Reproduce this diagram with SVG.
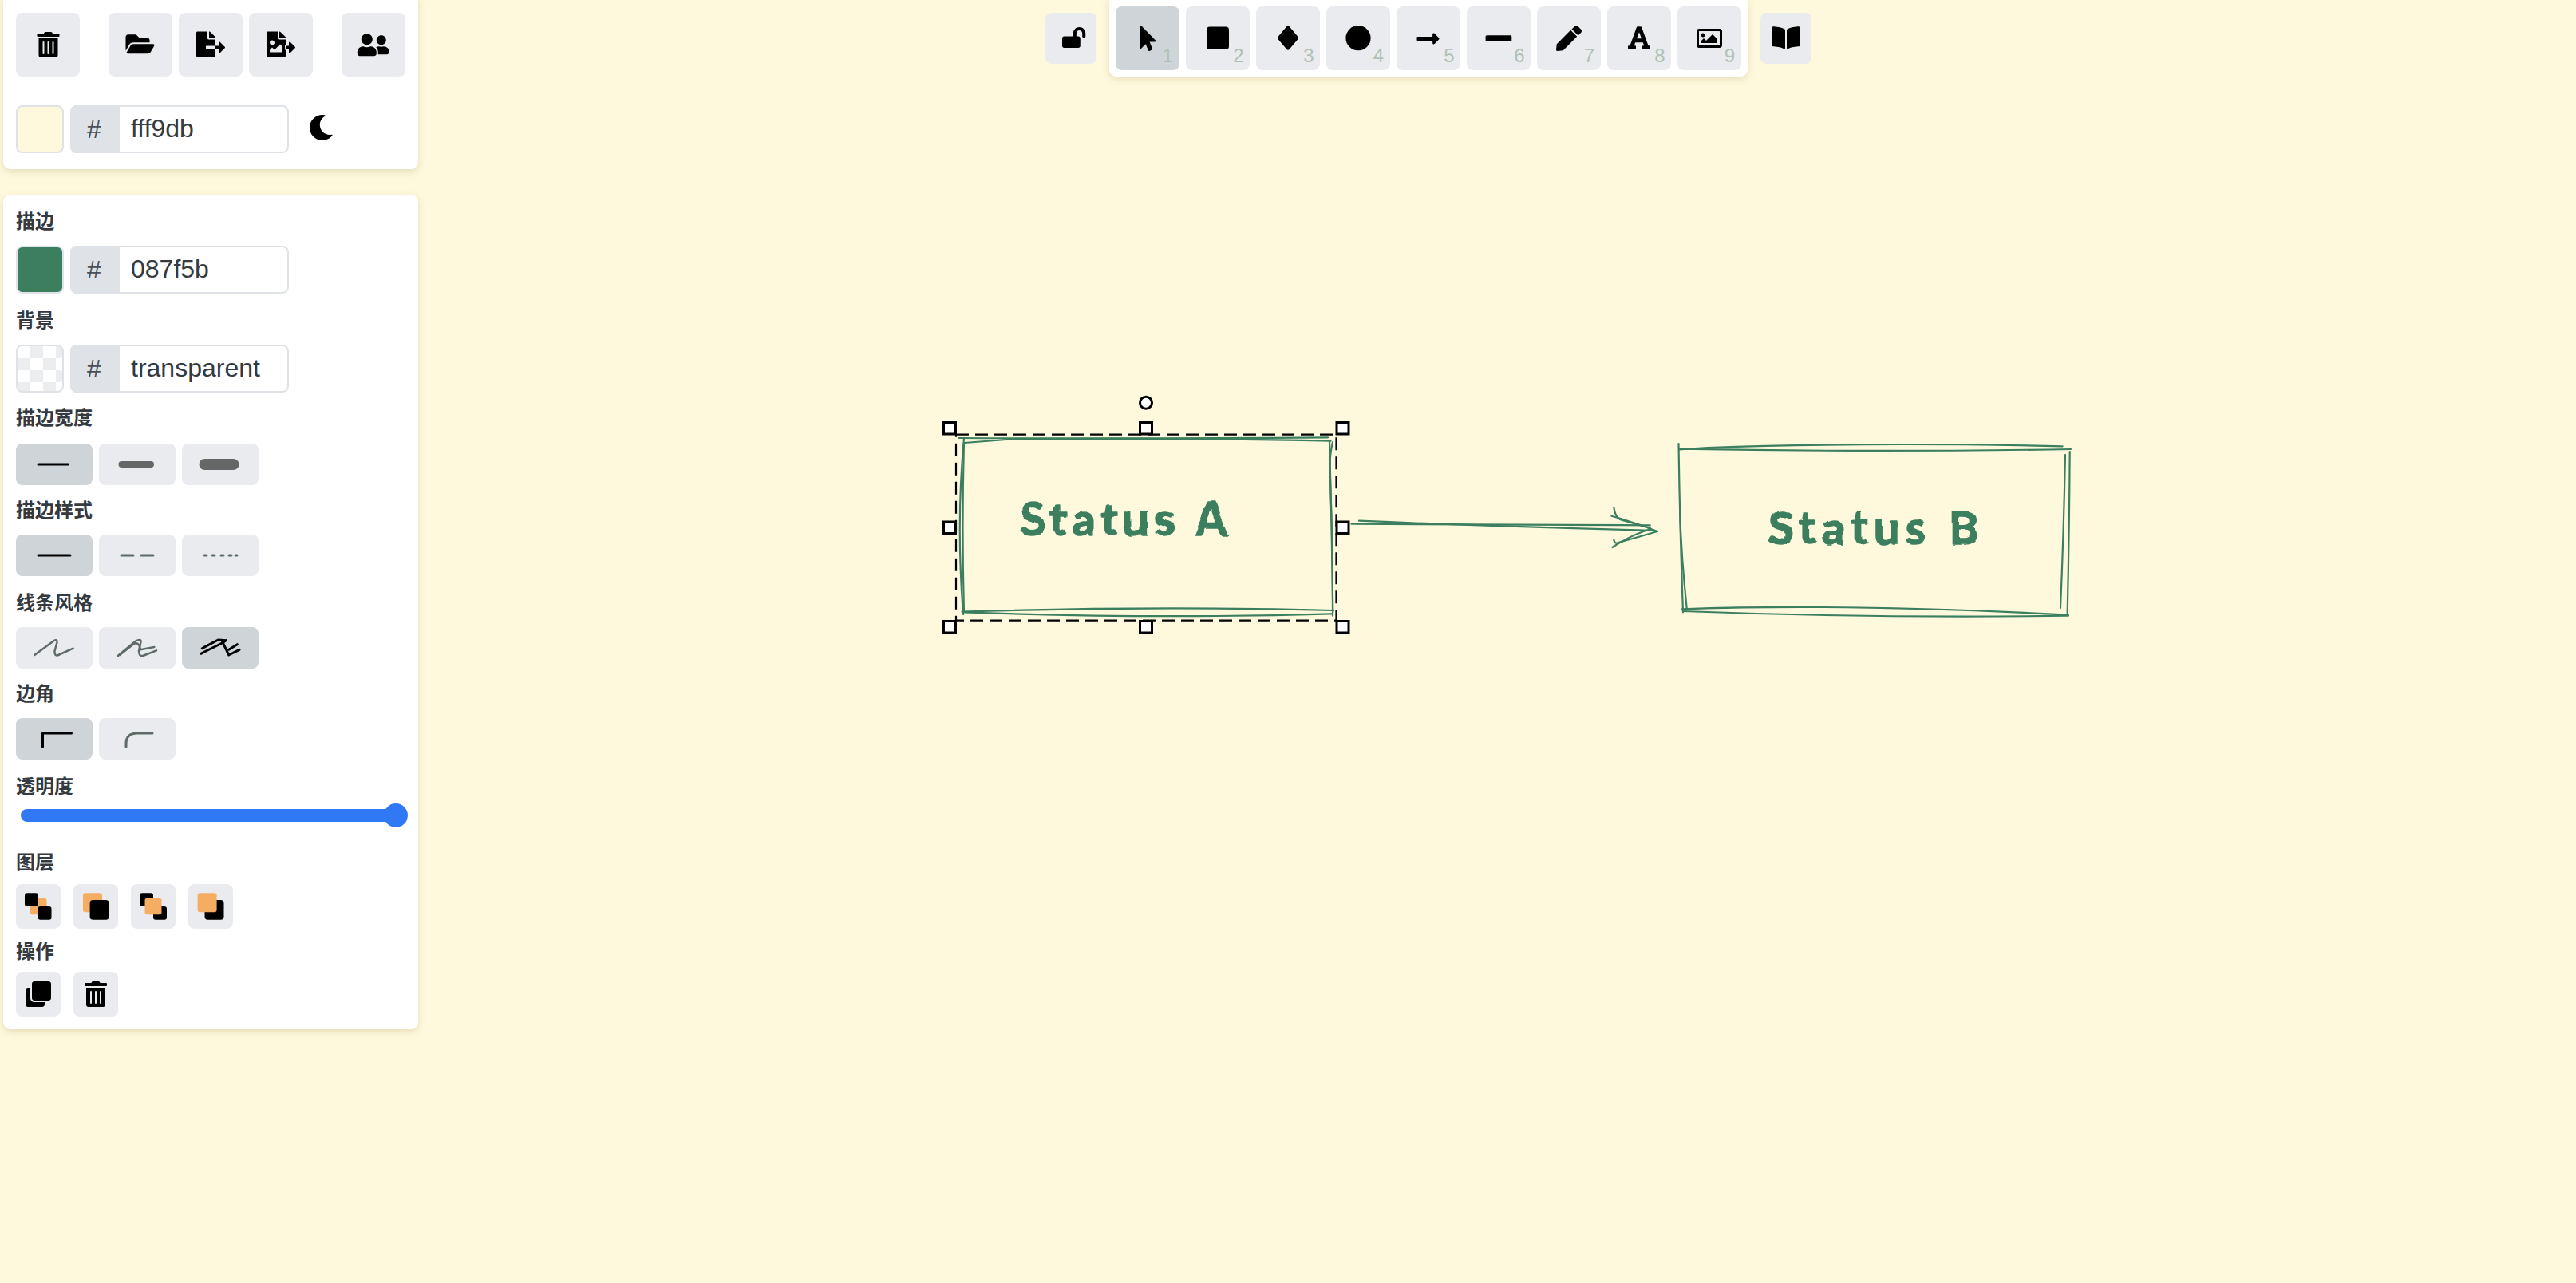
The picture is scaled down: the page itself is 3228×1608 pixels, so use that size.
<svg xmlns="http://www.w3.org/2000/svg" xmlns:xlink="http://www.w3.org/1999/xlink" width="3228" height="1608" viewBox="0 0 3228 1608">
<style>
.panel{fill:#fff;filter:url(#shadow)}
.btn{fill:#e9ebef}
.on{fill:#cfd4d8}
.lbl{font-family:"Noto Sans CJK SC","Liberation Sans",sans-serif;font-size:24px;font-weight:700;fill:#343a40}
.hash{font-family:"Liberation Sans",sans-serif;font-size:32px;fill:#495057;text-anchor:middle}
.val{font-family:"Liberation Sans",sans-serif;font-size:32px;fill:#343a40}
.num{font-family:"Liberation Sans",sans-serif;font-size:24px;fill:#b0c2b4;text-anchor:end}
.box{fill:#fff;stroke:#dfe2e7;stroke-width:2}
.hashbg{fill:#dfe2e7}
.sw{stroke:#dfe2e7;stroke-width:2}
.ink{fill:none;stroke:#3b7f5f;stroke-width:2.2;stroke-linecap:round;stroke-linejoin:round}
.hand{font-family:"Lato","Noto Sans",sans-serif;font-size:58px;font-weight:700;fill:#3b7f5f;stroke:#3b7f5f;stroke-width:1.5;stroke-linejoin:round;filter:url(#wobble)}
.handle{fill:#fff;stroke:#000;stroke-width:3}
.g{fill:none;stroke:#5f6b66;stroke-linecap:round;stroke-linejoin:round}
.k{fill:none;stroke:#000;stroke-linecap:round;stroke-linejoin:round}
.or{fill:#f5ad62}
</style>
<defs>
<filter id="shadow" x="-10%" y="-10%" width="120%" height="120%"><feDropShadow dx="0" dy="3" stdDeviation="4" flood-color="#8a7a30" flood-opacity="0.22"/></filter>
<filter id="wobble" x="-5%" y="-20%" width="110%" height="140%"><feTurbulence type="fractalNoise" baseFrequency="0.035" numOctaves="2" seed="4" result="n"/><feDisplacementMap in="SourceGraphic" in2="n" scale="7" xChannelSelector="R" yChannelSelector="G"/></filter>
<path id="i-trash" d="M32 464a48 48 0 0 0 48 48h288a48 48 0 0 0 48-48V128H32zm272-256a16 16 0 0 1 32 0v224a16 16 0 0 1-32 0zm-96 0a16 16 0 0 1 32 0v224a16 16 0 0 1-32 0zm-96 0a16 16 0 0 1 32 0v224a16 16 0 0 1-32 0zM432 32H312l-9.4-18.7A24 24 0 0 0 281.1 0H166.8a23.72 23.72 0 0 0-21.4 13.3L136 32H16A16 16 0 0 0 0 48v32a16 16 0 0 0 16 16h416a16 16 0 0 0 16-16V48a16 16 0 0 0-16-16z"/>
<clipPath id="chk"><rect x="21" y="433" width="58" height="58" rx="7"/></clipPath>
</defs>
<rect id="canvas" width="3228" height="1608" fill="#fef8dd"/>

<g id="connectors">
<g id="arrow-a-b">
<path class="ink" d="M1693.5 656.7Q1880 657.4 2067.8 658.3"/>
<path class="ink" d="M1703 652.7Q1880 660 2073.8 665"/>
<path class="ink" d="M2022.3 636Q2024 648 2030 651Q2050 657 2067.8 661.7"/>
<path class="ink" d="M2019.3 646.7Q2050 655 2076.9 666"/>
<path class="ink" d="M2020.5 686Q2045 670 2067.8 663.3"/>
<path class="ink" d="M2022.3 676.7Q2023 680 2025.4 680.7Q2050 674 2076.9 666"/>
</g>
</g>

<g id="node-status-a">
<path class="ink" d="M1201 549Q1430 550 1664 548.3"/>
<path class="ink" d="M1208.3 555L1261 551Q1445 548 1667.6 552.7"/>
<path class="ink" d="M1208 549Q1198 656 1207 770"/>
<path class="ink" d="M1208 555Q1205 660 1208 766.7"/>
<path class="ink" d="M1666 552.7Q1669 660 1670.3 766.7"/>
<path class="ink" d="M1670 554Q1665 575 1667 600Q1670 680 1670 771.7"/>
<path class="ink" d="M1205.5 766.7Q1445 759 1671 765"/>
<path class="ink" d="M1207 767.3Q1445 776 1669 769.3"/>
<text class="hand" x="1278" y="671" textLength="260" lengthAdjust="spacing">Status A</text>
</g>

<g id="selection">
<rect x="1198" y="544.700" width="476.500" height="233" fill="none" stroke="#000" stroke-width="2.200" stroke-dasharray="16 8"/>
<rect class="handle" x="1182.500" y="529.500" width="15" height="14.500"/>
<rect class="handle" x="1428.500" y="529.500" width="15" height="14.500"/>
<rect class="handle" x="1675" y="529.500" width="15" height="14.500"/>
<rect class="handle" x="1182.500" y="654" width="15" height="14.500"/>
<rect class="handle" x="1675" y="654" width="15" height="14.500"/>
<rect class="handle" x="1182.500" y="778.500" width="15" height="14.500"/>
<rect class="handle" x="1428.500" y="778.500" width="15" height="14.500"/>
<rect class="handle" x="1675" y="778.500" width="15" height="14.500"/>
<circle class="handle" cx="1436" cy="504.700" r="7.500"/>
</g>

<g id="node-status-b">
<path class="ink" d="M2104 563.3L2140 561Q2346 554 2584.6 559.3"/>
<path class="ink" d="M2104 562.7Q2346 567 2595 563"/>
<path class="ink" d="M2103.500 556Q2105 663 2109 767.300"/>
<path class="ink" d="M2105 640Q2107 700 2113.800 763.300"/>
<path class="ink" d="M2593.700 566Q2593 670 2590.700 768.300"/>
<path class="ink" d="M2588 570Q2586 670 2582 762"/>
<path class="ink" d="M2107.700 763.300Q2316 756 2591.800 770.700"/>
<path class="ink" d="M2109 766Q2346 775 2591.800 771.700"/>
<text class="hand" x="2216" y="682" textLength="264" lengthAdjust="spacing">Status B</text>
</g>

<g id="panel-top">
<rect class="panel" x="4" y="-6" width="520" height="218" rx="9"/>
<g id="btn-clear"><rect class="btn" x="20" y="16" width="80" height="80" rx="8"/><use href="#i-trash" transform="translate(46.500 40) scale(.0625)"/></g>
<g id="btn-open"><rect class="btn" x="136" y="16" width="80" height="80" rx="8"/><path transform="translate(157.500 39.300) scale(.0625)" d="M572.694 292.093L500.27 416.248A63.997 63.997 0 0 1 444.989 448H45.025c-18.523 0-30.064-20.093-20.731-36.093l72.424-124.155A64 64 0 0 1 152 256h399.964c18.523 0 30.064 20.093 20.73 36.093zM152 224h328v-48c0-26.51-21.49-48-48-48H272l-64-64H48C21.49 64 0 85.49 0 112v278.046l69.077-118.418C86.214 242.25 117.989 224 152 224z"/></g>
<g id="btn-export"><rect class="btn" x="224" y="16" width="80" height="80" rx="8"/><path transform="translate(246 39.500) scale(.0625)" d="M384 121.9c0-6.3-2.5-12.4-7-16.9L279.1 7c-4.5-4.5-10.6-7-17-7H256v128h128zM571 308l-95.7-96.4c-10.1-10.1-27.4-3-27.4 11.3V288h-64v64h64v65.2c0 14.3 17.3 21.4 27.4 11.3L571 332c6.6-6.6 6.6-17.4 0-24zm-379 28v-32c0-8.8 7.2-16 16-16h176V160H248c-13.2 0-24-10.8-24-24V0H24C10.7 0 0 10.700 0 24v464c0 13.300 10.700 24 24 24h336c13.300 0 24-10.700 24-24V352H208c-8.800 0-16-7.200-16-16z"/></g>
<g id="btn-export-image"><rect class="btn" x="312" y="16" width="80" height="80" rx="8"/><g transform="translate(334 39.500) scale(.0625)"><path d="M384 121.941V128H256V0h6.059a24 24 0 0 1 16.97 7.029l97.941 97.941a24.002 24.002 0 0 1 7.03 16.971zM248 160c-13.2 0-24-10.8-24-24V0H24C10.745 0 0 10.745 0 24v464c0 13.255 10.745 24 24 24h336c13.255 0 24-10.745 24-24V160H248zm-135.455 16c26.51 0 48 21.49 48 48s-21.49 48-48 48-48-21.49-48-48 21.491-48 48-48zm208 240h-256l.485-48.485L104.545 328c4.686-4.686 11.799-4.201 16.485.485L160.545 368 264.06 264.485c4.686-4.686 12.284-4.686 16.971 0L320.545 304v112z"/><path d="M571 308l-95.700-96.400c-10.100-10.100-27.400-3-27.400 11.300V288h-64v64h64v65.200c0 14.300 17.300 21.400 27.400 11.300L571 332c6.600-6.600 6.600-17.400 0-24z" stroke="#e9ebef" stroke-width="30"/><path d="M571 308l-95.700-96.400c-10.100-10.100-27.400-3-27.400 11.300V288h-64v64h64v65.200c0 14.300 17.300 21.400 27.400 11.300L571 332c6.600-6.600 6.600-17.400 0-24z"/></g></g>
<g id="btn-users"><rect class="btn" x="428" y="16" width="80" height="80" rx="8"/><path transform="translate(447.800 40.300) scale(.0625)" d="M192 256c61.9 0 112-50.1 112-112S253.9 32 192 32 80 82.1 80 144s50.1 112 112 112zm76.8 32h-8.3c-20.8 10-43.9 16-68.5 16s-47.6-6-68.5-16h-8.3C51.6 288 0 339.6 0 403.2V432c0 26.5 21.5 48 48 48h288c26.5 0 48-21.5 48-48v-28.8c0-63.6-51.6-115.2-115.2-115.2zM480 256c53 0 96-43 96-96s-43-96-96-96-96 43-96 96 43 96 96 96zm48 32h-3.8c-13.9 4.8-28.6 8-44.2 8s-30.3-3.2-44.2-8H432c-20.4 0-39.2 5.9-55.700 15.4 24.4 26.3 39.7 61.2 39.7 99.8v38.4c0 2.2-.5 4.3-.6 6.4H592c26.5 0 48-21.5 48-48 0-61.900-50.100-112-112-112z"/></g>
<g id="canvas-color"><rect class="sw" x="21" y="133" width="58" height="58" rx="7" fill="#fef8dd"/><rect class="box" x="89" y="133" width="272" height="58" rx="7"/><path class="hashbg" d="M150 132H96a8 8 0 0 0-8 8v44a8 8 0 0 0 8 8h54z"/><text class="hash" x="118" y="173">#</text><text class="val" x="164" y="172">fff9db</text></g>
<path id="icon-moon" transform="translate(386.300 144) scale(.0625)" d="M283.211 512c78.962 0 151.079-35.925 198.857-94.792 7.068-8.708-.639-21.43-11.562-19.35-124.203 23.654-238.262-71.576-238.262-196.954 0-72.222 38.662-138.635 101.498-174.394 9.686-5.512 7.25-20.197-3.756-22.23A258.156 258.156 0 0 0 283.211 0c-141.309 0-256 114.511-256 256 0 141.309 114.511 256 256 256z"/>
</g>

<g id="panel-props">
<rect class="panel" x="4" y="244" width="520" height="1046" rx="9"/>
<text class="lbl" x="20" y="286">描边</text>
<g id="stroke-color"><rect class="sw" x="21" y="309" width="58" height="58" rx="7" fill="#3b7f5f"/><rect class="box" x="89" y="309" width="272" height="58" rx="7"/><path class="hashbg" d="M150 308H96a8 8 0 0 0-8 8v44a8 8 0 0 0 8 8h54z"/><text class="hash" x="118" y="349">#</text><text class="val" x="164" y="348">087f5b</text></g>
<text class="lbl" x="20" y="410">背景</text>
<g id="bg-color">
<rect x="21" y="433" width="58" height="58" rx="7" fill="#fff"/>
<g clip-path="url(#chk)" fill="#ecedef"><rect x="38" y="434" width="16" height="15"/><rect x="70" y="434" width="16" height="15"/><rect x="22" y="449" width="16" height="15"/><rect x="54" y="449" width="16" height="15"/><rect x="38" y="464" width="16" height="15"/><rect x="70" y="464" width="16" height="15"/><rect x="22" y="479" width="16" height="15"/><rect x="54" y="479" width="16" height="15"/></g>
<rect class="sw" x="21" y="433" width="58" height="58" rx="7" fill="none"/>
<rect class="box" x="89" y="433" width="272" height="58" rx="7"/><path class="hashbg" d="M150 432H96a8 8 0 0 0-8 8v44a8 8 0 0 0 8 8h54z"/><text class="hash" x="118" y="473">#</text><text class="val" x="164" y="472">transparent</text></g>
<text class="lbl" x="20" y="532">描边宽度</text>
<g id="stroke-width">
<rect class="on" x="20" y="556" width="96" height="52" rx="8"/><rect class="btn" x="124" y="556" width="96" height="52" rx="8"/><rect class="btn" x="228" y="556" width="96" height="52" rx="8"/>
<path class="k" stroke-width="3" d="M48 582H85.500"/><rect x="148.500" y="578" width="44.500" height="8" rx="4" fill="#646766"/><rect x="249.500" y="575" width="50" height="14" rx="7" fill="#646766"/>
</g>
<text class="lbl" x="20" y="648">描边样式</text>
<g id="stroke-style">
<rect class="on" x="20" y="670" width="96" height="52" rx="8"/><rect class="btn" x="124" y="670" width="96" height="52" rx="8"/><rect class="btn" x="228" y="670" width="96" height="52" rx="8"/>
<path class="k" stroke-width="3" d="M48 696H88"/><path class="g" stroke-width="3" d="M152 696H167M177 696H192"/><path class="g" stroke-width="3" d="M256 696h3M266 696h3M277 696h3M287 696h3M295 696h2"/>
</g>
<text class="lbl" x="20" y="764">线条风格</text>
<g id="sloppiness">
<rect class="btn" x="20" y="786" width="96" height="52" rx="8"/><rect class="btn" x="124" y="786" width="96" height="52" rx="8"/><rect class="on" x="228" y="786" width="96" height="52" rx="8"/>
<path class="g" stroke-width="2.500" d="M43.300 821L67 803.500Q72 800.500 71.500 805L68.500 816Q68 823 73 821L91.700 812.700"/>
<path class="g" stroke-width="2.500" d="M147.700 822L170 803.500Q176 800.500 176.700 803.500L174 816Q174 823 179 822L196 815.300"/>
<path class="g" stroke-width="2.500" d="M150 821L166.700 807.700Q174 803 176 814.300L193.300 811"/>
<path class="k" stroke-width="3" d="M253.300 812.700L273.300 802L283.300 802.700M251.700 819.300L278.300 806L283.300 802.700M278.300 803.300L286.700 821L300 814.300M286.700 814.300L297.300 807.700"/>
</g>
<text class="lbl" x="20" y="878">边角</text>
<g id="roundness">
<rect class="on" x="20" y="900" width="96" height="52" rx="8"/><rect class="btn" x="124" y="900" width="96" height="52" rx="8"/>
<path class="k" stroke-width="3" d="M53.500 936V919H89.500"/><path class="g" stroke-width="3" d="M158 936V932Q158 919 172 919H191"/>
</g>
<text class="lbl" x="20" y="994">透明度</text>
<g id="opacity"><rect x="26" y="1014" width="472" height="16" rx="8" fill="#3178f4"/><circle cx="496" cy="1022" r="15" fill="#3178f4"/></g>
<text class="lbl" x="20" y="1089">图层</text>
<g id="layers">
<rect class="btn" x="20" y="1108" width="56" height="56" rx="8"/><rect class="btn" x="92" y="1108" width="56" height="56" rx="8"/><rect class="btn" x="164" y="1108" width="56" height="56" rx="8"/><rect class="btn" x="236" y="1108" width="56" height="56" rx="8"/>
<rect class="or" x="37.500" y="1125.700" width="21" height="20.500" rx="3"/><rect x="31" y="1119.300" width="17" height="16.700" rx="3"/><rect x="47.500" y="1136" width="17" height="16.700" rx="3"/>
<rect class="or" x="104" y="1119.300" width="24" height="24" rx="3"/><rect x="112.600" y="1128" width="24" height="24.700" rx="4"/>
<rect x="175" y="1119.300" width="17" height="16.700" rx="3"/><rect x="192" y="1136" width="17" height="16.700" rx="3"/><rect class="or" x="181.500" y="1125.700" width="21" height="20.500" rx="3"/>
<rect x="256.500" y="1128" width="24" height="24.700" rx="4"/><rect class="or" x="247.600" y="1119.300" width="24" height="24" rx="3"/>
</g>
<text class="lbl" x="20" y="1201">操作</text>
<g id="actions">
<rect class="btn" x="20" y="1218" width="56" height="56" rx="8"/><rect class="btn" x="92" y="1218" width="56" height="56" rx="8"/>
<path transform="translate(32 1230) scale(.0625)" d="M464 0c26.51 0 48 21.49 48 48v288c0 26.51-21.49 48-48 48H176c-26.51 0-48-21.49-48-48V48c0-26.51 21.49-48 48-48h288M176 416c-44.112 0-80-35.888-80-80V128H48c-26.51 0-48 21.49-48 48v288c0 26.51 21.49 48 48 48h288c26.51 0 48-21.49 48-48v-48H176z"/>
<use href="#i-trash" transform="translate(106 1230) scale(.0625)"/>
</g>
</g>

<g id="toolbar">
<g id="btn-lock"><rect class="btn" x="1310" y="16" width="64" height="64" rx="8"/><path transform="translate(1331 34) scale(.0508)" d="M423.5 0C339.5.3 272 69.5 272 153.5V224H48c-26.5 0-48 21.5-48 48v192c0 26.5 21.500 48 48 48h352c26.500 0 48-21.500 48-48V272c0-26.500-21.500-48-48-48h-48v-71.100c0-39.600 31.700-72.500 71.300-72.900 40-.4 72.700 32.100 72.700 72v80c0 13.300 10.700 24 24 24h32c13.300 0 24-10.700 24-24v-80C576 68 507.500-.3 423.500 0z"/></g>
<rect class="panel" x="1390" y="-6" width="800" height="102" rx="9"/>
<g id="tool-1"><rect class="on" x="1398" y="8" width="80" height="80" rx="8"/><path transform="translate(1428.300 32) scale(.0625)" d="M302.189 329.126H196.105l55.831 135.993c3.889 9.428-.555 19.999-9.444 23.999l-49.165 21.427c-9.165 4-19.443-.571-23.332-9.714l-53.053-129.136-86.664 89.138C18.729 472.71 0 463.554 0 447.977V18.299C0 1.899 19.921-6.096 30.277 5.443l284.412 292.542c11.472 11.179 3.007 31.141-12.5 31.141z"/><text class="num" x="1470" y="78">1</text></g>
<g id="tool-2"><rect class="btn" x="1486" y="8" width="80" height="80" rx="8"/><rect x="1512" y="33.500" width="28" height="28.500" rx="4"/><text class="num" x="1558.500" y="78">2</text></g>
<g id="tool-3"><rect class="btn" x="1574" y="8" width="80" height="80" rx="8"/><path d="M1612.500 33Q1614 31.500 1615.500 33L1626.500 46Q1627.500 47.500 1626.500 49L1615.500 62Q1614 63.500 1612.500 62L1601.500 49Q1600.500 47.500 1601.500 46Z"/><text class="num" x="1646.500" y="78">3</text></g>
<g id="tool-4"><rect class="btn" x="1662" y="8" width="80" height="80" rx="8"/><circle cx="1702" cy="47.700" r="15.600"/><text class="num" x="1734" y="78">4</text></g>
<g id="tool-5"><rect class="btn" x="1750" y="8" width="80" height="80" rx="8"/><path transform="translate(1775.500 32.500) scale(.0625)" d="M313.941 216H12c-6.627 0-12 5.373-12 12v56c0 6.627 5.373 12 12 12h301.941v46.059c0 21.382 25.851 32.09 40.971 16.971l86.059-86.059c9.373-9.373 9.373-24.569 0-33.941l-86.059-86.059c-15.119-15.119-40.971-4.411-40.971 16.971V216z"/><text class="num" x="1822.500" y="78">5</text></g>
<g id="tool-6"><rect class="btn" x="1838" y="8" width="80" height="80" rx="8"/><rect x="1861.600" y="44.300" width="32.700" height="7.400" rx="1.500"/><text class="num" x="1910.500" y="78">6</text></g>
<g id="tool-7"><rect class="btn" x="1926" y="8" width="80" height="80" rx="8"/><path transform="translate(1950 32) scale(.0625)" d="M290.740 93.240l128.020 128.020-277.990 277.990-114.140 12.600C11.350 513.540-1.560 500.620.140 485.340l12.700-114.220 277.900-278.880zm207.200-19.060l-60.110-60.110c-18.750-18.750-49.160-18.750-67.910 0l-56.550 56.550 128.020 128.020 56.550-56.550c18.750-18.760 18.750-49.160 0-67.910z"/><text class="num" x="1998" y="78">7</text></g>
<g id="tool-8"><rect class="btn" x="2014" y="8" width="80" height="80" rx="8"/><path transform="translate(2040 31.300) scale(.0625)" d="M432 416h-23.410L277.880 53.690A32 32 0 0 0 247.580 32h-47.160a32 32 0 0 0-30.300 21.690L39.410 416H16a16 16 0 0 0-16 16v32a16 16 0 0 0 16 16h128a16 16 0 0 0 16-16v-32a16 16 0 0 0-16-16h-19.600l23.300-64h152.600l23.300 64H304a16 16 0 0 0-16 16v32a16 16 0 0 0 16 16h128a16 16 0 0 0 16-16v-32a16 16 0 0 0-16-16zM176.850 272L224 142.510 271.150 272z"/><text class="num" x="2086.500" y="78">8</text></g>
<g id="tool-9"><rect class="btn" x="2102" y="8" width="80" height="80" rx="8"/><path transform="translate(2126 32) scale(.0625)" d="M464 64H48C21.490 64 0 85.490 0 112v288c0 26.510 21.490 48 48 48h416c26.510 0 48-21.490 48-48V112c0-26.510-21.490-48-48-48zm-6 336H54a6 6 0 0 1-6-6V118a6 6 0 0 1 6-6h404a6 6 0 0 1 6 6v276a6 6 0 0 1-6 6zM128 152c-22.091 0-40 17.909-40 40s17.909 40 40 40 40-17.909 40-40-17.909-40-40-40zM96 352h320v-80l-87.515-87.515c-4.686-4.686-12.284-4.686-16.971 0L192 304l-39.515-39.515c-4.686-4.686-12.284-4.686-16.971 0L96 304v48z"/><text class="num" x="2174" y="78">9</text></g>
<g id="btn-docs"><rect class="btn" x="2206" y="16" width="64" height="64" rx="8"/><path transform="translate(2220 31.300) scale(.0625)" d="M542.220 32.050c-54.800 3.110-163.720 14.430-230.960 55.590-4.640 2.840-7.270 7.890-7.270 13.170v363.870c0 11.550 12.630 18.850 23.280 13.490 69.180-34.820 169.230-44.320 218.700-46.920 16.890-.89 30.020-14.430 30.020-30.660V62.750c.01-17.710-15.350-31.740-33.770-30.700zM264.730 87.640C197.500 46.480 88.580 35.170 33.780 32.050 15.360 31.010 0 45.040 0 62.750V400.600c0 16.240 13.130 29.780 30.020 30.660 49.490 2.600 149.590 12.110 218.770 46.950 10.620 5.350 23.210-1.940 23.210-13.460V100.630c0-5.290-2.620-10.150-7.270-12.990z"/></g>
</g>
</svg>
